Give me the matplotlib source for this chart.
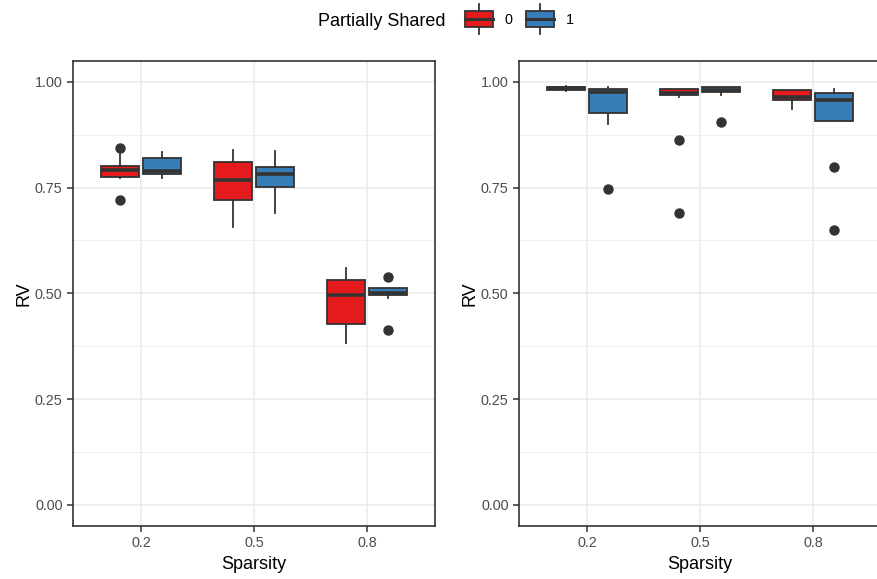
import numpy as np
import matplotlib
matplotlib.use('Agg')
import matplotlib.pyplot as plt
from matplotlib.patches import Patch, Rectangle
from matplotlib.lines import Line2D
from matplotlib.legend_handler import HandlerBase

plt.rcParams['font.family'] = ['Liberation Sans', 'DejaVu Sans']

# ---- data ----
sparsity = ['0.2', '0.5', '0.8']
groups = ['0', '1']
colors = {'0': '#E41A1C', '1': '#377EB8'}

# left panel: [whislo, q1, med, q3, whishi], outliers
left_stats = {
    '0': [[0.773, 0.776, 0.792, 0.802, 0.829],
          [0.656, 0.721, 0.767, 0.811, 0.839],
          [0.383, 0.427, 0.496, 0.531, 0.560]],
    '1': [[0.773, 0.781, 0.790, 0.819, 0.833],
          [0.689, 0.751, 0.781, 0.798, 0.837],
          [0.488, 0.495, 0.500, 0.513, 0.513]],
}
left_fliers = {
    '0': [[0.843, 0.721], [], []],
    '1': [[], [], [0.538, 0.414]],
}

# right panel
right_stats = {
    '0': [[0.979, 0.980, 0.985, 0.988, 0.991],
          [0.965, 0.968, 0.974, 0.983, 0.983],
          [0.935, 0.958, 0.964, 0.980, 0.980]],
    '1': [[0.900, 0.927, 0.977, 0.983, 0.988],
          [0.969, 0.976, 0.981, 0.987, 0.987],
          [0.908, 0.908, 0.957, 0.973, 0.983]],
}
right_fliers = {
    '0': [[], [0.862, 0.691], []],
    '1': [[0.746], [0.905], [0.798, 0.650]],
}

edge = '#333333'
W, H = 877, 579
fig = plt.figure(figsize=(W/100, H/100), dpi=100)

def make_axes(x0px):
    return fig.add_axes([x0px/W, 1 - 526/H, 362/W, (526 - 60.7)/H])

def draw_panel(ax, stats, fliers):
    pos = np.arange(1, len(sparsity) + 1)
    for gi, g in enumerate(groups):
        off = -0.1875 if gi == 0 else 0.1875
        bx = []
        for i in range(len(sparsity)):
            lo, q1, med, q3, hi = stats[g][i]
            bx.append({'whislo': lo, 'q1': q1, 'med': med, 'q3': q3,
                       'whishi': hi, 'fliers': fliers[g][i]})
        ax.bxp(bx, positions=pos + off, widths=0.3375, patch_artist=True,
               showcaps=False,
               boxprops=dict(facecolor=colors[g], edgecolor=edge, linewidth=1.3),
               medianprops=dict(color=edge, linewidth=2.6),
               whiskerprops=dict(color=edge, linewidth=1.3),
               flierprops=dict(marker='o', markerfacecolor=edge, markeredgecolor=edge,
                               markersize=6.5),
               zorder=3)
    ax.set_xlim(0.4, 3.6)
    ax.set_ylim(-0.05, 1.05)
    ax.set_xticks(pos)
    ax.set_xticklabels(sparsity)
    ax.set_yticks([0, 0.25, 0.5, 0.75, 1.0])
    ax.set_yticklabels(['0.00', '0.25', '0.50', '0.75', '1.00'])
    ax.set_yticks([0.125, 0.375, 0.625, 0.875], minor=True)
    ax.grid(which='major', color='#EBEBEB', linewidth=1.1, zorder=0)
    ax.grid(which='minor', axis='y', color='#EBEBEB', linewidth=0.55, zorder=0)
    ax.set_axisbelow(True)
    ax.tick_params(which='major', length=4, width=1.1, color=edge,
                   labelcolor='#4D4D4D', labelsize=10.4, pad=3.5)
    ax.tick_params(which='minor', length=0)
    for s in ax.spines.values():
        s.set_color(edge)
        s.set_linewidth(1.2)
    ax.set_xlabel('Sparsity', fontsize=13, labelpad=4)
    ax.set_ylabel('RV', fontsize=13, labelpad=2)

ax1 = make_axes(73)
draw_panel(ax1, left_stats, left_fliers)
ax2 = make_axes(519)
draw_panel(ax2, right_stats, right_fliers)


class HandlerBox(HandlerBase):
    def create_artists(self, legend, orig_handle, xdescent, ydescent,
                       width, height, fontsize, trans):
        cy = -ydescent + height / 2
        bh = 11.5
        rect = Rectangle((-xdescent, cy - bh/2), width, bh,
                         facecolor=orig_handle.get_facecolor(), edgecolor=edge,
                         linewidth=1.3, transform=trans)
        wl = Line2D([-xdescent + width/2] * 2, [cy - 21.5/2, cy - bh/2],
                    color=edge, linewidth=1.3, transform=trans)
        wh = Line2D([-xdescent + width/2] * 2, [cy + bh/2, cy + 21.5/2],
                    color=edge, linewidth=1.3, transform=trans)
        md = Line2D([-xdescent, -xdescent + width], [cy, cy],
                    color=edge, linewidth=2.2, transform=trans)
        return [wl, wh, rect, md]


handles = [Patch(facecolor=colors[g]) for g in groups]
fig.text(318/W, 1 - 21/H, 'Partially Shared', fontsize=13, va='center', ha='left')
fig.legend(handles, groups, handler_map={Patch: HandlerBox()},
           loc='center left', bbox_to_anchor=(465/W, 1 - 20/H), ncol=2,
           frameon=False, fontsize=10.4, borderpad=0, borderaxespad=0,
           handlelength=1.94, handletextpad=0.8, columnspacing=0.97)

fig.savefig('out.png', dpi=100)
